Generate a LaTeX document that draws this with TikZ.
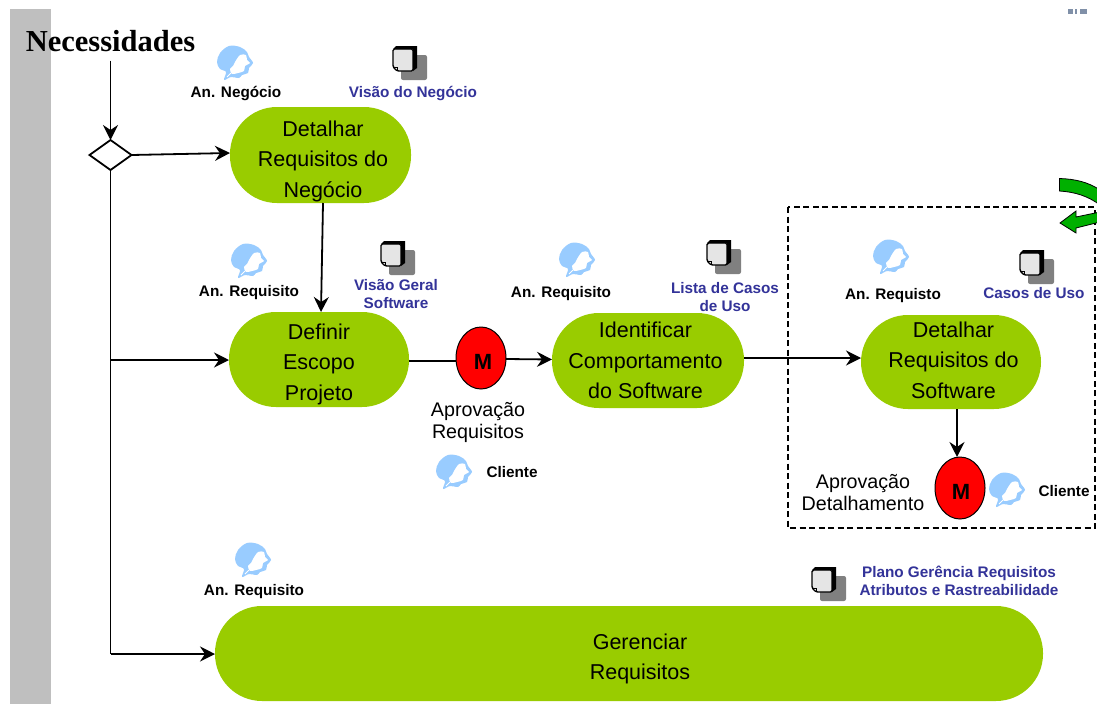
\documentclass[tikz,border=0pt]{standalone}
\usepackage{fontspec}
\setmainfont{Liberation Sans}
\newfontfamily\serifbold{Liberation Serif}[BoldFont={Liberation Serif Bold}]
\usetikzlibrary{arrows.meta,shapes.geometric}
\definecolor{lime}{HTML}{99CC00}
\definecolor{barG}{HTML}{BFBFBF}
\definecolor{persB}{HTML}{99CCFF}
\definecolor{artB}{HTML}{333399}
\definecolor{greenArr}{HTML}{00B000}
\definecolor{stray}{HTML}{8090A8}
\tikzset{
  x=1pt,y=-1pt,
  every node/.style={inner sep=0pt,outer sep=0pt},
  task/.style={draw=none,fill=lime,rounded corners=47pt},
  tasktext/.style={align=center,text=black,font=\fontsize{21.5}{30.5}\selectfont},
  gate/.style={ellipse,draw=black,line width=1pt,fill=red,minimum width=50pt,minimum height=62pt},
  gatetext/.style={font=\bfseries\fontsize{22}{24}\selectfont,text=black},
  choice/.style={diamond,draw=black,line width=1.8pt,fill=white,minimum width=42pt,minimum height=30pt,aspect=1.4},
  conn/.style={draw=black,line width=1.8pt,-{Stealth[length=15pt,width=15pt,inset=5pt]}},
  plainline/.style={draw=black,line width=1.8pt},
  role/.style={font=\bfseries\fontsize{15.3}{18}\selectfont,align=center,text=black},
  artifact/.style={font=\bfseries\fontsize{15.3}{18}\selectfont,align=center,text=artB},
  caption/.style={font=\fontsize{19.7}{22}\selectfont,align=center,text=black},
  person/.pic={
    \fill[persB] plot[smooth cycle,tension=.6] coordinates{(-18,-1)(-15,-10)(-6,-17)(5,-16)(12,-11)(14,-6)(18,0)(14,5)(13,10)(7,12)(4,15)(-4,14)(-11,17)(-9,9)(-15,6)};
    \fill[white] plot[smooth cycle,tension=.5] coordinates{(0,-1)(5,-8)(11,-8)(12,-3)(15,0)(10,3)(9,8)(3,10)(-3,11)(-5,6)(-2,3)};
    \draw[white,line width=1pt] (-8,14) -- (-4,10);
  },
  document/.pic={
    \fill[black!50,rounded corners=2pt] (8,9) rectangle (34,34);
    \draw[black,line width=1.4pt,fill=black!10,rounded corners=1.5pt] (0,3) -- (20,3) -- (20,25) -- (4,25) -- (0,21) -- cycle;
    \fill[black] (0,3) -- (3,0) -- (24,0) -- (24,22) -- (20,25) -- (20,3) -- cycle;
    \draw[black,line width=.7pt] (0,21) -- (4,21) -- (4,25);
  },
}
\begin{document}
\begin{tikzpicture}
\useasboundingbox (0,0) rectangle (1097,704);
\fill[white] (0,0) rectangle (1097,704);
\fill[barG] (10,9) rectangle (51,704);

% stray fragment at the top edge
\fill[stray] (1068,9) rectangle (1073,14);
\fill[stray] (1075,9) rectangle (1077,14);
\fill[stray] (1080,9) rectangle (1087,14);

% dashed frame
\draw[black,line width=1.2pt,dash pattern=on 6pt off 3.5pt] (788,207) rectangle (1095,528);

% turning arrow
\fill[greenArr,draw=black,line width=.8pt] (1059.5,178.5) .. controls (1075,179) and (1088,182) .. (1100,190) -- (1100,205) .. controls (1088,196) and (1075,192) .. (1059.5,191) -- cycle;
\fill[greenArr,draw=black,line width=.8pt] (1100,212) -- (1076,217) -- (1076,211) -- (1060,223) -- (1076,233) -- (1076,228) -- (1100,222) -- cycle;

% tasks
\node[task,minimum width=181pt,minimum height=96pt,label={[name=t1,tasktext,xshift=2.5pt,yshift=-6pt]center:Detalhar\\Requisitos do\\Negócio}] (d1) at (320.5,155) {};
\node[task,minimum width=180pt,minimum height=95pt,label={[name=t2,tasktext,yshift=-4.5pt]center:Definir\\Escopo\\Projeto}] (d2) at (319,359.5) {};
\node[task,minimum width=192pt,minimum height=95pt,label={[name=t3,tasktext,xshift=-2.5pt]center:Identificar\\Comportamento\\do Software}] (d3) at (648,360.5) {};
\node[task,minimum width=180pt,minimum height=94pt,label={[name=t4,tasktext,xshift=2.5pt,yshift=2pt]center:Detalhar\\Requisitos do\\Software}] (d4) at (951,362) {};
\node[task,minimum width=828pt,minimum height=95pt,label={[name=t5,tasktext,xshift=11pt,yshift=-5.5pt]center:Gerenciar\\Requisitos}] (d5) at (629,653.5) {};

% gates and decision
\node[gate,label={[name=mt1,gatetext,xshift=2pt,yshift=-3.5pt]center:M}] (m1) at (481,358) {};
\node[gate,label={[name=mt2,gatetext,xshift=1pt,yshift=-3.5pt]center:M}] (m2) at (960,488) {};
\node[choice] (dec) at (110.5,155) {};

% title
\node[font=\serifbold\bfseries\fontsize{30.5}{32}\selectfont] (nec) at (110.5,41) {Necessidades};

% connectors
\coordinate (j1) at (110.5,360);
\coordinate (j2) at (110.5,654);
\draw[conn] ([yshift=-9pt]nec.south) -- (dec.north);
\draw[conn] (dec.east) -- ([yshift=2pt]d1.west);
\draw[plainline] (dec.south) -- (j2);
\draw[conn] (j1) -- (j1 -| d2.west);
\draw[conn] (j2) -- (j2 -| d5.west);
\draw[conn] ([xshift=2.5pt]d1.south) -- ([xshift=2pt]d2.north);
\draw[plainline] ([yshift=-1.5pt]d2.east) -- ([yshift=-3pt]m1.west);
\draw[conn] ([yshift=-1pt]m1.east) -- ([yshift=1pt]d3.west);
\draw[conn] ([yshift=2.5pt]d3.east) -- ([yshift=4pt]d4.west);
\draw[conn] ([xshift=6pt]d4.south) -- ([xshift=-3pt]m2.north);

% people
\pic at (235,63) {person};
\pic at (249,261) {person};
\pic at (577,260) {person};
\pic at (891,257) {person};
\pic at (454,472) {person};
\pic at (1007,490) {person};
\pic at (253,560) {person};

% documents
\pic at (393,46) {document};
\pic at (381,241) {document};
\pic at (707,240) {document};
\pic at (1020,250) {document};
\pic at (812,567) {document};

% labels
\node[role] (l1) at (236,94) {An. Negócio};
\node[artifact] (a1) at (413,94) {Visão do Negócio};
\node[role] (l2) at (249,293) {An. Requisito};
\node[artifact] (a2) at (396,294.5) {Visão Geral\\Software};
\node[role] (l3) at (561,294) {An. Requisito};
\node[artifact] (a3) at (725,297) {Lista de Casos\\de Uso};
\node[role] (l4) at (893,296) {An. Requisto};
\node[artifact] (a4) at (1034,293) {Casos de Uso};
\node[caption] (c1) at (478,422) {Aprovação\\Requisitos};
\node[role] (l5) at (512,472) {Cliente};
\node[caption] (c2) at (863,492.5) {Aprovação\\Detalhamento};
\node[role] (l6) at (1064,491) {Cliente};
\node[role] (l7) at (254,592) {An. Requisito};
\node[artifact] (a5) at (959,581) {Plano Gerência Requisitos\\Atributos e Rastreabilidade};
\end{tikzpicture}
\end{document}
